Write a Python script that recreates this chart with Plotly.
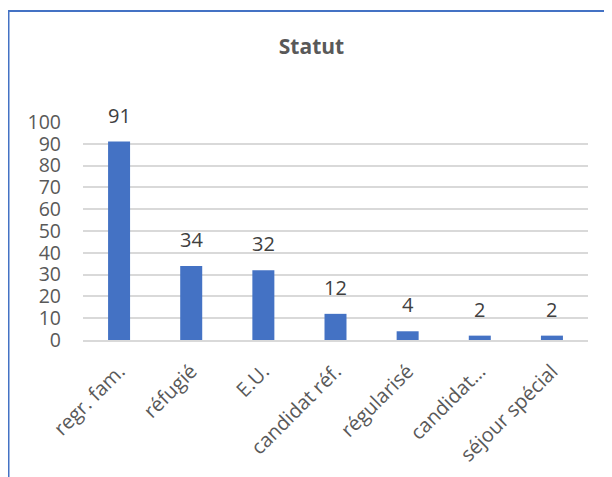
import plotly.graph_objects as go

categories = ["regr. fam.", "réfugié", "E.U.", "candidat réf.", "régularisé", "candidat…", "séjour spécial"]
values = [91, 34, 32, 12, 4, 2, 2]
y_ticks = [0, 10, 20, 30, 40, 50, 60, 70, 80, 90, 100]

W, H = 612, 477
OFF = 8  # page body margin
# plot area in page pixels: x 83..588, y 122..340
L, T = 83 - OFF, 122 - OFF
R = W - (588 - OFF)
B = H - (340 - OFF)
pw, ph = W - L - R, H - T - B

FONT = "Open Sans"
TXT = "#595959"
BAR = "#4472C4"

fig = go.Figure(go.Bar(
    x=categories, y=values,
    marker=dict(color=BAR, line=dict(width=0)),
    hoverinfo="x+y",
))

for c, v in zip(categories, values):
    fig.add_annotation(x=c, y=v, text=str(v), showarrow=False,
                       yanchor="bottom", yshift=11,
                       font=dict(family=FONT, size=20, color="#404040"))

def px_x(p):
    return (p - OFF - L) / pw

def px_y(p):
    return 1 - (p - OFF - T) / ph

fig.update_layout(
    width=W, height=H,
    margin=dict(l=L, r=R, t=T, b=B, autoexpand=False),
    paper_bgcolor="white", plot_bgcolor="white",
    bargap=0.695,
    showlegend=False,
    title=dict(text="<b>Statut</b>", x=(311.5 - OFF) / W, xanchor="center",
               y=1 - (47 - OFF) / H, yanchor="middle",
               font=dict(family=FONT, size=21, color=TXT)),
    xaxis=dict(showgrid=False, showline=True, linecolor="#D9D9D9", linewidth=1.5,
               tickangle=-45, tickfont=dict(family=FONT, size=20, color=TXT),
               ticks="", ticklabelstandoff=10, automargin=False, fixedrange=True),
    yaxis=dict(range=[0, 100], tickvals=y_ticks, showgrid=True, gridcolor="#D9D9D9",
               gridwidth=1.5, zeroline=False, showline=False, ticks="",
               tickfont=dict(family=FONT, size=19.5, color=TXT), ticklabelstandoff=21,
               automargin=False, fixedrange=True),
    shapes=[dict(type="rect", xref="paper", yref="paper",
                 x0=px_x(8.5), x1=px_x(W + 40), y0=px_y(H + 40), y1=px_y(11),
                 line=dict(color=BAR, width=2), fillcolor="rgba(0,0,0,0)", layer="above")],
)

fig.write_html("out.html")
